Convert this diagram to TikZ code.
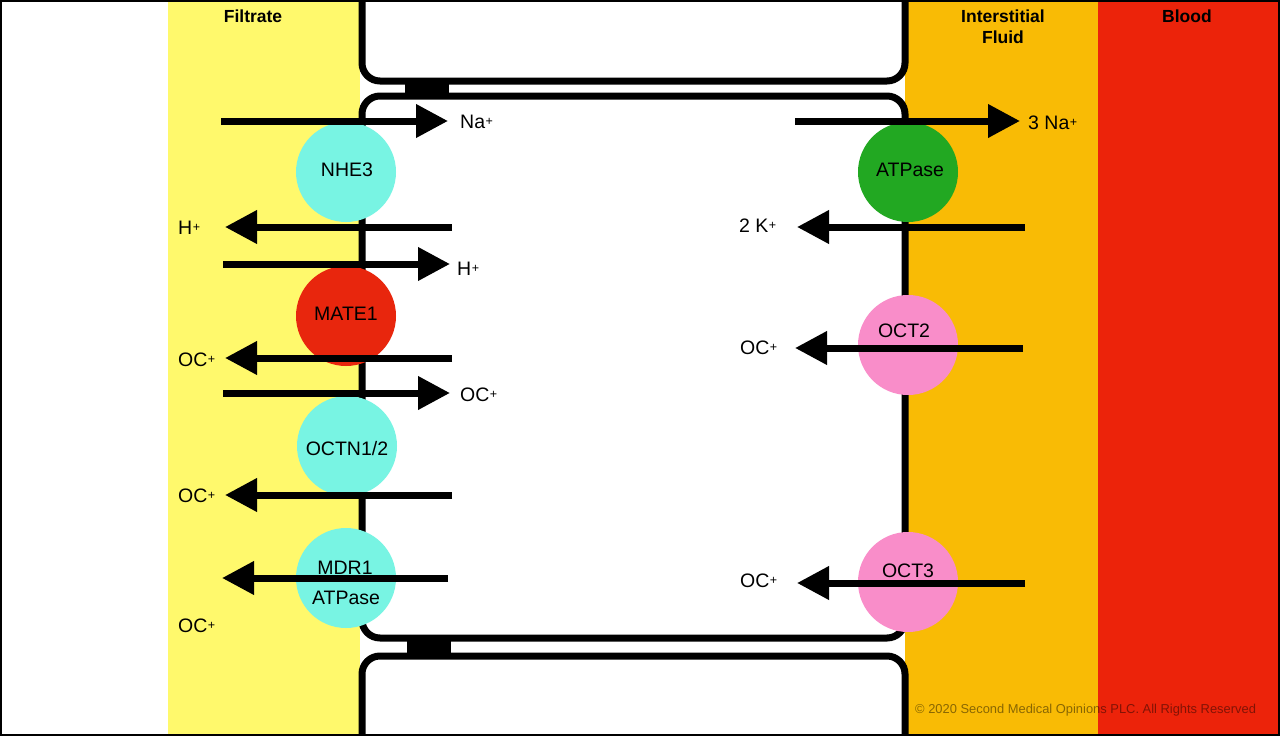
\documentclass[tikz,border=0pt]{standalone}
\usepackage{fontspec}
\setmainfont{Liberation Sans}
\usetikzlibrary{arrows.meta}
\definecolor{filt}{HTML}{FFF96C}
\definecolor{intf}{HTML}{F9BB05}
\definecolor{bld}{HTML}{EC230A}
\definecolor{cyanT}{HTML}{78F4E3}
\definecolor{redT}{HTML}{E8260D}
\definecolor{greenT}{HTML}{22A822}
\definecolor{pinkT}{HTML}{F98DC9}
\newcommand{\ionp}{\kern0.5pt\raisebox{3pt}{\fontsize{12.5}{12.5}\selectfont +}}
\begin{document}
\begin{tikzpicture}[x=1pt,y=-1pt,
  membrane/.style={draw=black,line width=7pt,fill=white,rounded corners=18pt},
  junction/.style={fill=black},
  transporter/.style={circle,inner sep=0pt,minimum size=100pt},
  flow/.style={line width=7pt,-{Triangle[length=32pt,width=32pt]}},
  ion/.style={inner sep=0pt,font=\fontsize{19.5}{23}\selectfont},
  tname/.style={inner sep=0pt,anchor=base,font=\fontsize{19.5}{23}\selectfont},
  header/.style={inner sep=0pt,anchor=base,font=\fontsize{17.5}{21}\selectfont\bfseries},
]
\useasboundingbox (0,0) rectangle (1280,736);
\clip (0,0) rectangle (1280,736);
% compartments
\fill[white] (0,0) rectangle (1280,736);
\fill[filt] (168,0) rectangle (360,736);
\fill[intf] (905,0) rectangle (1098,736);
\fill[bld] (1098,0) rectangle (1280,736);
% headers
\node[header] (hfilt) at (253,23) {Filtrate};
\node[header] (hint1) at (1003,22) {Interstitial};
\node[header] (hint2) at (1003,43) {Fluid};
\node[header] (hblood) at (1187,23) {Blood};
% cells
\draw[membrane] (362,-40) rectangle (905,81);
\draw[membrane] (362,96) rectangle (905,638);
\draw[membrane] (362,656) rectangle (905,800);
\fill[junction] (405,81) rectangle (449,96);
\fill[junction] (407,638) rectangle (451,656);
% transporters
\node[transporter,fill=cyanT] (nhe3) at (346,172) {};
\node[transporter,fill=redT] (mate1) at (346,316) {};
\node[transporter,fill=cyanT] (octn) at (347,446) {};
\node[transporter,fill=cyanT] (mdr1) at (346,578) {};
\node[transporter,fill=greenT] (atpase) at (908,172) {};
\node[transporter,fill=pinkT] (oct2) at (908,345) {};
\node[transporter,fill=pinkT] (oct3) at (908,582) {};
\node[tname] (nhe3t) at (347,176) {NHE3};
\node[tname] (mate1t) at (346,320) {MATE1};
\node[tname] (octnt) at (347,455) {OCTN1/2};
\node[tname] (mdr1t) at (345,574) {MDR1};
\node[tname] (mdr1t2) at (346,604) {ATPase};
\node[tname] (atpaset) at (910,176) {ATPase};
\node[tname] (oct2t) at (904,337) {OCT2};
\node[tname] (oct3t) at (908,577) {OCT3};
% flow end points
\coordinate (f1s) at (221,121); \coordinate (f1e) at (448,121);
\coordinate (f2s) at (452,227); \coordinate (f2e) at (225,227);
\coordinate (f3s) at (223,264); \coordinate (f3e) at (450,264);
\coordinate (f4s) at (452,358); \coordinate (f4e) at (225,358);
\coordinate (f5s) at (223,393); \coordinate (f5e) at (450,393);
\coordinate (f6s) at (452,495); \coordinate (f6e) at (225,495);
\coordinate (f7s) at (448,578); \coordinate (f7e) at (222,578);
\coordinate (f8s) at (795,121); \coordinate (f8e) at (1020,121);
\coordinate (f9s) at (1025,227); \coordinate (f9e) at (797,227);
\coordinate (f10s) at (1023,348); \coordinate (f10e) at (795,348);
\coordinate (f11s) at (1025,583); \coordinate (f11e) at (797,583);
\foreach \i in {1,...,11} {\draw[flow] (f\i s) -- (f\i e);}
% ion labels
\node[ion,anchor=base west] (l1) at (460,128) {Na\ionp};
\node[ion,anchor=base west] (l2) at (178,234) {H\ionp};
\node[ion,anchor=base west] (l3) at (457,275) {H\ionp};
\node[ion,anchor=base west] (l4) at (178,366) {OC\ionp};
\node[ion,anchor=base west] (l5) at (460,401) {OC\ionp};
\node[ion,anchor=base west] (l6) at (178,502) {OC\ionp};
\node[ion,anchor=base west] (l7) at (178,632) {OC\ionp};
\node[ion,anchor=base west] (l8) at (1028,129) {3 Na\ionp};
\node[ion,anchor=base west] (l9) at (739,232) {2 K\ionp};
\node[ion,anchor=base west] (l10) at (740,354) {OC\ionp};
\node[ion,anchor=base west] (l11) at (740,587) {OC\ionp};
% copyright
\node[anchor=base west,inner sep=0pt,font=\fontsize{12.9}{15}\selectfont,text=black,text opacity=0.45] (copy) at (915,713) {© 2020 Second Medical Opinions PLC. All Rights Reserved};
% frame
\draw[line width=4pt] (0,0) rectangle (1280,736);
\end{tikzpicture}
\end{document}
